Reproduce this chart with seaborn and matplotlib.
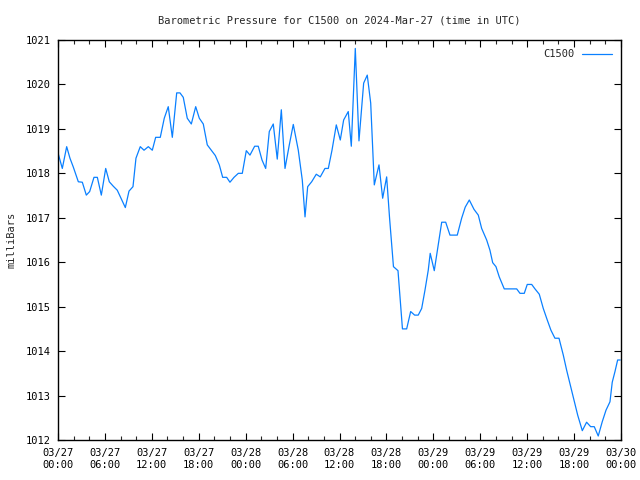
import numpy as np
import pandas as pd
import matplotlib
matplotlib.use("Agg")
import matplotlib.pyplot as plt
import matplotlib.dates as mdates
import seaborn as sns

# hours since 2024-03-27 00:00 UTC
hours = [0.0, 0.55, 1.11, 1.53, 1.96, 2.60, 3.11, 3.62, 4.05, 4.60, 5.03, 5.54, 6.10, 6.56,
         7.07, 7.58, 8.06, 8.61, 9.08, 9.59, 9.97, 10.52, 11.0, 11.55, 12.06, 12.49, 13.08,
         13.59, 14.10, 14.62, 15.18, 15.60, 16.02, 16.53, 17.05, 17.61, 18.07, 18.58, 19.09,
         19.60, 20.12, 20.63, 21.06, 21.57, 21.99, 22.51, 23.06, 23.57, 24.08, 24.55, 25.15,
         25.61, 26.09, 26.56, 27.02, 27.53, 28.04, 28.56, 29.03, 29.58, 30.09, 30.73, 31.24,
         31.59, 31.93, 32.44, 33.03, 33.54, 34.14, 34.57, 35.04, 35.59, 36.10, 36.53, 37.12,
         37.51, 38.02, 38.49, 39.09, 39.55, 39.99, 40.45, 41.05, 41.52, 42.03, 42.40, 42.90,
         43.48, 44.05, 44.59, 45.10, 45.61, 46.07, 46.51, 46.93, 47.35, 47.60, 48.12, 48.63,
         49.07, 49.58, 50.13, 50.58, 51.06, 51.62, 52.08, 52.60, 53.20, 53.75, 54.18, 54.82,
         55.24, 55.59, 56.01, 56.43, 57.07, 57.60, 58.10, 58.66, 59.08, 59.63, 60.01, 60.58,
         61.00, 61.55, 62.06, 62.57, 63.04, 63.55, 64.07, 64.62, 65.05, 65.47, 65.98, 66.46,
         67.05, 67.60, 68.12, 68.58, 69.09, 69.60, 70.08, 70.59, 70.88, 71.23, 71.57, 71.90]

pressure = [1018.46, 1018.11, 1018.60, 1018.34, 1018.14, 1017.81, 1017.80, 1017.51, 1017.59,
            1017.91, 1017.91, 1017.51, 1018.11, 1017.81, 1017.71, 1017.62, 1017.44, 1017.23,
            1017.60, 1017.70, 1018.34, 1018.60, 1018.52, 1018.60, 1018.52, 1018.81, 1018.81,
            1019.24, 1019.50, 1018.81, 1019.81, 1019.81, 1019.71, 1019.24, 1019.11, 1019.50,
            1019.24, 1019.11, 1018.64, 1018.52, 1018.40, 1018.19, 1017.91, 1017.91, 1017.80,
            1017.91, 1018.00, 1018.00, 1018.51, 1018.41, 1018.61, 1018.61, 1018.30, 1018.11,
            1018.94, 1019.11, 1018.32, 1019.43, 1018.11, 1018.64, 1019.10, 1018.52, 1017.85,
            1017.02, 1017.70, 1017.81, 1017.98, 1017.92, 1018.11, 1018.11, 1018.52, 1019.09,
            1018.75, 1019.20, 1019.39, 1018.61, 1020.81, 1018.73, 1020.03, 1020.21, 1019.58,
            1017.74, 1018.19, 1017.44, 1017.92, 1017.00, 1015.90, 1015.81, 1014.50, 1014.50,
            1014.89, 1014.81, 1014.81, 1014.96, 1015.37, 1015.82, 1016.20, 1015.81, 1016.39,
            1016.90, 1016.90, 1016.61, 1016.61, 1016.61, 1016.99, 1017.24, 1017.40, 1017.19,
            1017.06, 1016.76, 1016.50, 1016.27, 1015.99, 1015.90, 1015.67, 1015.40, 1015.40,
            1015.40, 1015.40, 1015.30, 1015.30, 1015.50, 1015.50, 1015.40, 1015.28, 1014.96,
            1014.70, 1014.47, 1014.29, 1014.29, 1013.91, 1013.57, 1013.27, 1012.90, 1012.56,
            1012.21, 1012.40, 1012.30, 1012.30, 1012.09, 1012.41, 1012.67, 1012.86, 1013.30,
            1013.54, 1013.80, 1013.80]

series_name = "C1500"
title = "Barometric Pressure for C1500 on 2024-Mar-27 (time in UTC)"
ylabel = "milliBars"
y_ticks = list(range(1012, 1022))

start = pd.Timestamp("2024-03-27 00:00")
df = pd.DataFrame({
    "time": [start + pd.Timedelta(hours=h) for h in hours],
    "pressure": pressure,
    "station": series_name,
})

sns.set_style("white")
plt.rcParams["font.family"] = ["DejaVu Sans Mono"]
plt.rcParams["font.size"] = 7.5

fig = plt.figure(figsize=(6.4, 4.8), dpi=100)
ax = fig.add_axes([58/640, 40/480, (621-58)/640, 400/480])

sns.lineplot(data=df, x="time", y="pressure", hue="station", palette=["#0a80ff"],
             linewidth=0.9, ax=ax, legend=True)

ax.set_xlim(start, start + pd.Timedelta(hours=72))
ax.set_ylim(1012, 1021)
ax.set_yticks(y_ticks)
ax.set_yticklabels([str(t) for t in y_ticks])

ax.xaxis.set_major_locator(mdates.HourLocator(byhour=[0, 6, 12, 18]))
ax.xaxis.set_minor_locator(mdates.HourLocator(byhour=range(0, 24, 2)))
ax.xaxis.set_major_formatter(mdates.DateFormatter("%m/%d\n%H:%M"))

for s in ax.spines.values():
    s.set_color("black")
    s.set_linewidth(1.0)

ax.tick_params(axis="both", which="major", direction="in", length=5, width=0.8,
               top=True, right=True, bottom=True, left=True, colors="black", labelsize=7.5)
ax.tick_params(axis="x", which="minor", direction="in", length=3, width=0.8,
               top=True, bottom=True)
ax.tick_params(axis="x", which="major", pad=6)
ax.tick_params(axis="y", which="major", pad=5)

ax.set_xlabel("")
ax.set_ylabel(ylabel, fontsize=7.5, labelpad=7)
ax.set_title(title, fontsize=7.5, pad=12)

leg = ax.legend(loc="upper right", frameon=False, fontsize=7.5, handlelength=2.8,
                markerfirst=False, borderaxespad=0.5)

fig.savefig("out.png", dpi=100, facecolor="white")
